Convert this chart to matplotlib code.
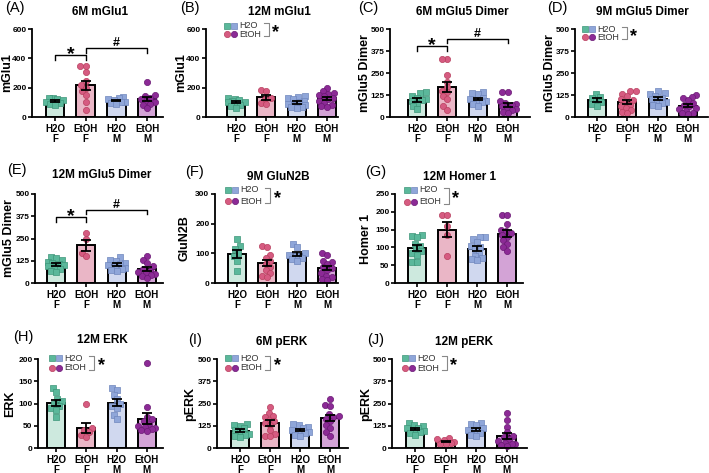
import numpy as np
import matplotlib
matplotlib.use("Agg")
import matplotlib.pyplot as plt
from matplotlib.lines import Line2D

plt.rcParams['font.family'] = ['Liberation Sans', 'DejaVu Sans']

W, H = 709, 473
groups = ["H2O\nF", "EtOH\nF", "H2O\nM", "EtOH\nM"]
fills = ['#cde9de', '#eab6c6', '#d0d8ef', '#d3a3d6']
mcols = ['#5bb89b', '#d65b81', '#8fa6d9', '#8c2a96']
medges = ['#3e9679', '#b8405f', '#6f86bd', '#6a1a74']
mshapes = ['s', 'o', 's', 'o']

panel_ids = ["A", "B", "C", "D", "E", "F", "G", "H", "I", "J"]
titles = ["6M mGlu1", "12M mGlu1", "6M mGlu5 Dimer", "9M mGlu5 Dimer",
          "12M mGlu5 Dimer", "9M GluN2B", "12M Homer 1",
          "12M ERK", "6M pERK", "12M pERK"]
ylabels = ["mGlu1", "mGlu1", "mGlu5 Dimer", "mGlu5 Dimer", "mGlu5 Dimer",
           "GluN2B", "Homer 1", "ERK", "pERK", "pERK"]
yticks = [[0, 200, 400, 600], [0, 200, 400, 600],
          [0, 125, 250, 375, 500], [0, 125, 250, 375, 500],
          [0, 125, 250, 375, 500], [0, 100, 200, 300],
          [0, 50, 100, 150, 200, 250], [0, 50, 100, 150, 200],
          [0, 125, 250, 375, 500], [0, 125, 250, 375, 500]]

# data points per group (H2O F, EtOH F, H2O M, EtOH M)
A_H2O_F = [130, 128, 115, 105, 100, 95, 90, 80, 125]
A_EtOH_F = [350, 350, 310, 245, 220, 200, 175, 150, 100, 50]
A_H2O_M = [135, 130, 125, 115, 105, 100, 95, 90]
A_EtOH_M = [240, 150, 145, 130, 120, 110, 100, 90, 80, 60]

B_H2O_F = [130, 120, 115, 110, 105, 100, 95, 85, 75, 60]
B_EtOH_F = [185, 180, 130, 125, 95, 90]
B_H2O_M = [140, 135, 130, 120, 110, 100, 90, 85, 80, 70, 65, 60]
B_EtOH_M = [195, 175, 165, 160, 150, 140, 130, 120, 110, 95, 80, 75, 70]

C_H2O_F = [140, 135, 120, 110, 100, 95, 90, 80, 60, 45]
C_EtOH_F = [330, 330, 240, 200, 170, 150, 140, 120, 100, 60, 40]
C_H2O_M = [140, 135, 130, 110, 100, 95, 90, 85, 75, 65]
C_EtOH_M = [140, 140, 90, 80, 75, 70, 60, 55, 45, 40, 30, 20]

D_H2O_F = [130, 115, 110, 95, 85, 75, 65]
D_EtOH_F = [150, 145, 130, 120, 100, 95, 80, 70, 60, 50, 40, 30, 20]
D_H2O_M = [150, 135, 130, 120, 110, 100, 95, 85, 80, 70, 60]
D_EtOH_M = [125, 115, 110, 95, 80, 70, 60, 50, 45, 35, 25, 20, 15]

E_H2O_F = [145, 140, 130, 120, 115, 105, 100, 95, 90, 80, 70, 60]
E_EtOH_F = [280, 250, 170, 150]
E_H2O_M = [145, 130, 125, 115, 105, 100, 95, 85, 80, 75, 70]
E_EtOH_M = [150, 130, 110, 95, 80, 70, 60, 55, 50, 45, 40, 30]

F_H2O_F = [148, 125, 115, 100, 90, 75, 40]
F_EtOH_F = [125, 120, 95, 85, 75, 65, 55, 45, 35, 25, 20]
F_H2O_M = [130, 120, 100, 95, 90, 85, 80, 75]
F_EtOH_M = [100, 95, 75, 70, 65, 55, 50, 45, 35, 25, 20, 15, 10]

G_H2O_F = [135, 132, 130, 110, 105, 95, 90, 85, 80, 60, 58]
G_EtOH_F = [190, 190, 160, 135, 75]
G_H2O_M = [130, 128, 125, 115, 105, 100, 95, 85, 75, 70, 68, 65]
G_EtOH_M = [190, 190, 165, 150, 145, 140, 135, 130, 120, 110, 100, 90]

H_H2O_F = [135, 125, 110, 105, 100, 95, 90, 85, 70]
H_EtOH_F = [100, 45, 40, 35, 30, 25]
H_H2O_M = [135, 130, 120, 110, 100, 95, 90, 75, 65]
H_EtOH_M = [190, 92, 70, 65, 60, 55, 50, 48, 45, 42, 40, 38]

I_H2O_F = [135, 130, 125, 110, 100, 90, 80, 75, 70, 60]
I_EtOH_F = [230, 195, 180, 175, 160, 150, 140, 130, 100, 80, 70, 65]
I_H2O_M = [135, 130, 120, 110, 100, 95, 90, 85, 75, 70]
I_EtOH_M = [275, 240, 235, 190, 180, 175, 165, 150, 130, 110, 90, 70]

J_H2O_F = [140, 130, 125, 115, 110, 100, 95, 90, 85, 75]
J_EtOH_F = [55, 50, 45, 35, 30, 25, 20]
J_H2O_M = [140, 135, 130, 110, 100, 95, 85, 75, 65]
J_EtOH_M = [195, 155, 120, 90, 70, 60, 50, 40, 30, 25, 20, 15, 10]

panel_data = {
    "A": [A_H2O_F, A_EtOH_F, A_H2O_M, A_EtOH_M],
    "B": [B_H2O_F, B_EtOH_F, B_H2O_M, B_EtOH_M],
    "C": [C_H2O_F, C_EtOH_F, C_H2O_M, C_EtOH_M],
    "D": [D_H2O_F, D_EtOH_F, D_H2O_M, D_EtOH_M],
    "E": [E_H2O_F, E_EtOH_F, E_H2O_M, E_EtOH_M],
    "F": [F_H2O_F, F_EtOH_F, F_H2O_M, F_EtOH_M],
    "G": [G_H2O_F, G_EtOH_F, G_H2O_M, G_EtOH_M],
    "H": [H_H2O_F, H_EtOH_F, H_H2O_M, H_EtOH_M],
    "I": [I_H2O_F, I_EtOH_F, I_H2O_M, I_EtOH_M],
    "J": [J_H2O_F, J_EtOH_F, J_H2O_M, J_EtOH_M],
}

# significance brackets: (x1, x2, y_line, y_tick_end, symbol)
sig = {
    "A": [(0, 1, 423, 389, '*'), (1, 3, 470, 436, '#')],
    "C": [(0, 1, 403, 375, '*'), (1, 3, 443, 420, '#')],
    "E": [(0, 1, 371, 343, '*'), (1, 3, 410, 388, '#')],
}

# layout in pixels: spine_x, right_x, top_y, bottom_y, first_center, spacing
layout = {
    "A": (32, 163, 29, 117, 55, 30.7),
    "B": (206, 338, 29, 117, 236, 30.3),
    "C": (390, 530, 29, 117, 417, 30.3),
    "D": (575, 708, 29, 117, 597, 30.3),
    "E": (35, 163, 194, 283, 56, 30.3),
    "F": (215, 338, 194, 283, 237, 30.0),
    "G": (395, 523, 194, 283, 417, 30.0),
    "H": (38, 163, 359, 448, 56, 30.3),
    "I": (217, 348, 359, 448, 240, 30.0),
    "J": (392, 527, 359, 448, 415, 30.5),
}
title_pos = {"A": (100, 12), "B": (279, 12), "C": (462, 12), "D": (642, 12),
             "E": (102, 175), "F": (278, 177), "G": (460, 177),
             "H": (102, 340), "I": (282, 342), "J": (464, 342)}
label_pos = {"A": (5, 8), "B": (180, 8), "C": (358, 8), "D": (547, 8),
             "E": (7, 170), "F": (185, 172), "G": (365, 172),
             "H": (13, 337), "I": (188, 340), "J": (367, 340)}
ylabel_x = {"A": 7, "B": 181, "C": 365, "D": 550, "E": 9, "F": 185,
            "G": 366, "H": 10, "I": 190, "J": 366}
legend_pos = {"B": (227, 25.5, 9), "D": (585, 29, 8.5), "F": (228, 190, 11),
              "G": (407, 190, 12), "H": (52, 358, 9.5), "I": (228, 358, 9.5),
              "J": (405, 358, 10)}

fig = plt.figure(figsize=(W / 100, H / 100), dpi=100)


def fx(x):
    return x / W


def fy(y):
    return 1 - y / H


def swarm(vals, ypx, d=5.2, maxoff=8.5):
    offs = np.zeros(len(vals))
    placed = []
    cands = np.arange(-maxoff, maxoff + 0.01, 0.5)
    cands = cands[np.argsort(np.abs(cands), kind='stable')]
    order = np.argsort(vals)
    for i in order:
        y = vals[i] * ypx
        best, bestd = 0.0, -1
        chosen = None
        for c in cands:
            md = min([np.hypot(c - px, y - py) for px, py in placed], default=1e9)
            if md >= d:
                chosen = c
                break
            if md > bestd:
                bestd, best = md, c
        if chosen is None:
            chosen = best
        offs[i] = chosen
        placed.append((chosen, y))
    return offs


for k, pid in enumerate(panel_ids):
    sx, rx, ty, by, c0, sp = layout[pid]
    ymax = yticks[k][-1]
    ax = fig.add_axes([fx(sx), fy(by), (rx - sx) / W, (by - ty) / H])
    xl = (sx - c0) / sp
    xr = 3 + (rx - (c0 + 3 * sp)) / sp
    ax.set_xlim(xl, xr)
    ax.set_ylim(0, ymax)
    ypx = (by - ty) / ymax
    data = panel_data[pid]
    for g in range(4):
        v = np.array(data[g], dtype=float)
        m = v.mean()
        se = v.std(ddof=1) / np.sqrt(len(v))
        ax.bar(g, m, width=0.6, color=fills[g], edgecolor='black', linewidth=1.4, zorder=1)
        offs = swarm(v, ypx) / sp
        ax.scatter(g + offs, v, s=18 if mshapes[g] == 's' else 20, marker=mshapes[g],
                   color=mcols[g], edgecolors=medges[g], linewidths=0.5, zorder=2, clip_on=False)
        ax.errorbar(g, m, yerr=se, color='black', linewidth=1.3, capsize=3.5,
                    capthick=1.3, zorder=3)
    for s in ['top', 'right']:
        ax.spines[s].set_visible(False)
    for s in ['left', 'bottom']:
        ax.spines[s].set_linewidth(1.3)
    ax.set_yticks(yticks[k])
    ax.set_yticklabels([str(t) for t in yticks[k]], fontsize=6, fontweight='bold')
    ax.set_xticks(range(4))
    ax.set_xticklabels(groups, fontsize=7, fontweight='bold', linespacing=0.95)
    ax.tick_params(axis='y', length=3, width=1.2, pad=1)
    ax.tick_params(axis='x', length=3, width=1.2, pad=2)
    ax.patch.set_alpha(0)

    fig.text(fx(ylabel_x[pid]), fy((ty + by) / 2), ylabels[k], fontsize=9,
             fontweight='bold', rotation=90, ha='center', va='center',
             rotation_mode='anchor')
    fig.text(fx(title_pos[pid][0]), fy(title_pos[pid][1]), titles[k], fontsize=8.5,
             fontweight='bold', ha='center', va='center')
    fig.text(fx(label_pos[pid][0]), fy(label_pos[pid][1]), "(" + pid + ")", fontsize=10.5,
             ha='left', va='center')

    for (x1, x2, yl, yt, sym) in sig.get(pid, []):
        ax.plot([x1, x1, x2, x2], [yt, yl, yl, yt], color='black', lw=1.0,
                clip_on=False, zorder=4)
        if sym == '*':
            ax.annotate('*', xy=((x1 + x2) / 2, yl), xytext=(0, -3),
                        textcoords='offset points', fontsize=14, fontweight='bold',
                        ha='center', va='baseline', annotation_clip=False)
        else:
            ax.annotate('#', xy=((x1 + x2) / 2, yl), xytext=(0, 1.5),
                        textcoords='offset points', fontsize=9, fontweight='bold',
                        ha='center', va='baseline', annotation_clip=False)

    if pid in legend_pos:
        lx, ly, gap = legend_pos[pid]
        rows = [(ly, 's', [mcols[0], mcols[2]], [medges[0], medges[2]], "H2O"),
                (ly + gap, 'o', [mcols[1], mcols[3]], [medges[1], medges[3]], "EtOH")]
        for (yy, mk, cols, eds, txt) in rows:
            for j in range(2):
                fig.add_artist(Line2D([fx(lx + 7 * j)], [fy(yy)], marker=mk, markersize=4.5,
                                      markerfacecolor=cols[j], markeredgecolor=eds[j],
                                      markeredgewidth=0.5, linestyle='none'))
            fig.text(fx(lx + 12), fy(yy), txt, fontsize=6.5, color='#333333',
                     ha='left', va='center')
        bx = lx + 42
        fig.add_artist(Line2D([fx(bx - 5), fx(bx), fx(bx), fx(bx - 5)],
                              [fy(ly - 2), fy(ly - 2), fy(ly + gap + 2), fy(ly + gap + 2)],
                              color='#888888', lw=0.8))
        fig.text(fx(bx + 7), fy(ly + gap / 2 + 3), '*', fontsize=13, fontweight='bold',
                 ha='center', va='center')

fig.savefig("out.png", dpi=100)
